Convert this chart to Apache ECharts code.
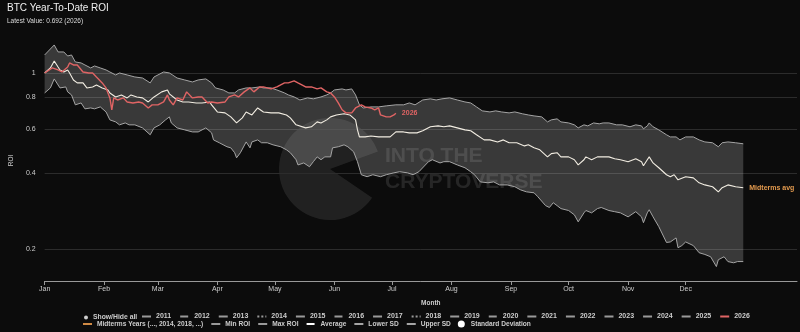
<!DOCTYPE html>
<html><head><meta charset="utf-8">
<style>html,body{margin:0;padding:0;background:#0c0c0c}#c{width:800px;height:332px}</style>
<script src="https://cdn.jsdelivr.net/npm/echarts@6/dist/echarts.min.js"></script>
</head><body><div id="c"></div>
<script>
// ---- data (day of year, ROI) ----
const months = ['Jan','Feb','Mar','Apr','May','Jun','Jul','Aug','Sep','Oct','Nov','Dec'];
const monthStartDays = [0,31,59,90,120,151,181,212,243,273,304,334];
const yTicks = [0.2,0.4,0.6,0.8,1];

const upperDays = [0,5,7,10,12,14,16,19,21,24,26,29,32,34,37,39,43,47,51,55,57,62,65,66,69,73,77,80,84,87,89,93,96,99,101,105,108,112,114,118,121,125,127,130,133,137,140,144,147,149,151,155,157,160,162,164,166,170,174,178,183,187,190,193,197,201,204,207,211,215,219,222,225,228,232,235,238,242,245,249,252,255,259,262,264,267,269,273,276,278,281,283,286,289,291,294,298,301,305,308,311,312,314,315,317,320,324,326,329,331,334,338,341,344,348,351,353,356,360,364];
const upperVals = [1.179,1.292,1.212,1.212,1.168,1.179,1.106,1.096,1.076,1.047,1.066,1.047,1.028,1.009,0.982,1.000,0.982,0.964,0.955,0.913,0.964,1.009,1.000,0.982,0.955,0.938,0.921,0.938,0.947,0.913,0.872,0.856,0.833,0.833,0.856,0.872,0.872,0.880,0.872,0.872,0.856,0.833,0.818,0.803,0.781,0.796,0.789,0.803,0.818,0.833,0.856,0.864,0.856,0.864,0.818,0.747,0.726,0.733,0.733,0.740,0.747,0.747,0.760,0.747,0.781,0.789,0.781,0.789,0.796,0.781,0.767,0.760,0.733,0.707,0.700,0.707,0.700,0.694,0.700,0.688,0.681,0.675,0.669,0.639,0.651,0.657,0.639,0.633,0.622,0.605,0.622,0.616,0.633,0.628,0.633,0.633,0.622,0.622,0.611,0.622,0.616,0.600,0.616,0.633,0.611,0.594,0.568,0.557,0.557,0.542,0.557,0.557,0.542,0.532,0.528,0.509,0.528,0.532,0.528,0.523];

const avgDays = [0,3,5,7,8,10,12,13,15,17,20,22,25,27,30,33,34,37,40,43,45,48,51,54,57,61,64,65,69,72,75,79,82,86,87,90,94,97,100,103,105,108,111,114,118,122,126,128,131,132,136,139,142,144,147,149,152,156,159,162,163,164,167,170,174,177,180,183,187,190,194,197,201,205,208,211,215,219,222,225,229,232,236,239,242,246,250,252,255,258,262,264,267,269,273,276,278,281,282,285,288,290,294,297,300,304,308,311,312,314,315,317,320,324,326,328,330,334,338,341,344,348,351,353,356,360,364];
const avgVals = [1.000,1.047,1.116,1.056,1.028,1.009,1.028,1.000,0.938,0.913,0.913,0.872,0.880,0.896,0.872,0.856,0.833,0.803,0.818,0.796,0.818,0.803,0.796,0.767,0.803,0.841,0.856,0.826,0.781,0.767,0.767,0.760,0.760,0.767,0.747,0.700,0.694,0.669,0.633,0.663,0.700,0.681,0.726,0.700,0.694,0.694,0.681,0.663,0.622,0.611,0.605,0.611,0.639,0.633,0.651,0.669,0.681,0.688,0.681,0.651,0.594,0.557,0.557,0.562,0.557,0.557,0.557,0.583,0.583,0.578,0.578,0.589,0.611,0.616,0.611,0.616,0.605,0.594,0.589,0.568,0.542,0.542,0.532,0.542,0.528,0.528,0.513,0.518,0.504,0.495,0.464,0.478,0.482,0.464,0.464,0.452,0.431,0.452,0.464,0.452,0.464,0.464,0.464,0.456,0.452,0.444,0.456,0.444,0.428,0.452,0.464,0.439,0.420,0.394,0.387,0.394,0.376,0.387,0.383,0.366,0.359,0.353,0.337,0.350,0.359,0.353,0.350];

const lowerDays = [0,3,5,7,8,11,12,14,16,19,21,24,26,29,32,34,37,39,42,44,47,51,55,57,60,63,65,66,69,73,77,80,84,87,88,91,95,97,99,100,102,105,107,108,111,113,116,119,123,126,128,131,132,135,138,140,142,144,146,149,150,153,156,158,161,163,165,168,171,175,178,182,185,189,192,195,200,202,206,208,211,215,219,222,224,227,231,234,237,241,245,248,251,255,257,261,263,265,267,269,273,276,278,281,282,285,288,290,294,297,300,304,308,311,312,314,315,317,320,324,326,329,330,332,334,338,341,344,347,350,351,354,356,359,361,364];
const lowerVals = [0.833,0.872,0.947,0.896,0.872,0.880,0.841,0.818,0.747,0.760,0.720,0.726,0.720,0.733,0.700,0.651,0.639,0.622,0.633,0.622,0.622,0.605,0.568,0.605,0.622,0.651,0.669,0.633,0.605,0.594,0.583,0.583,0.605,0.578,0.542,0.528,0.509,0.504,0.482,0.460,0.482,0.532,0.504,0.532,0.542,0.528,0.528,0.518,0.509,0.495,0.482,0.452,0.431,0.439,0.424,0.444,0.464,0.452,0.464,0.464,0.504,0.509,0.518,0.509,0.486,0.444,0.394,0.387,0.394,0.387,0.394,0.401,0.405,0.401,0.394,0.405,0.444,0.452,0.439,0.444,0.444,0.431,0.420,0.405,0.394,0.369,0.366,0.369,0.359,0.359,0.353,0.343,0.337,0.334,0.322,0.297,0.292,0.305,0.297,0.289,0.284,0.273,0.256,0.278,0.284,0.278,0.289,0.292,0.284,0.281,0.278,0.268,0.281,0.268,0.254,0.278,0.286,0.268,0.245,0.212,0.213,0.221,0.202,0.206,0.213,0.206,0.193,0.190,0.186,0.170,0.181,0.186,0.178,0.176,0.178,0.178];

const y2026Days = [0,4,7,9,12,13,15,17,20,23,25,27,30,32,33,34,35,36,38,41,43,46,49,51,54,56,59,62,64,65,67,69,72,74,77,80,82,85,87,90,94,96,99,101,104,107,109,112,114,118,121,125,127,130,132,133,136,139,142,144,147,149,151,153,155,157,158,160,162,165,167,170,172,174,175,178,180,181,182,183];
const y2026Vals = [1.000,1.047,1.028,1.009,1.056,1.096,1.076,1.076,1.009,1.000,1.000,0.964,0.913,0.872,0.833,0.796,0.714,0.796,0.781,0.796,0.767,0.760,0.767,0.760,0.726,0.747,0.747,0.767,0.818,0.781,0.747,0.796,0.781,0.841,0.796,0.803,0.803,0.760,0.767,0.760,0.767,0.803,0.818,0.803,0.841,0.872,0.841,0.880,0.880,0.864,0.880,0.913,0.913,0.930,0.913,0.913,0.880,0.880,0.864,0.872,0.841,0.833,0.803,0.760,0.714,0.694,0.700,0.694,0.726,0.747,0.733,0.726,0.714,0.726,0.681,0.669,0.669,0.657,0.681,0.692];

const yearNames = ['2011','2012','2013','2014','2015','2016','2017','2018','2019','2020','2021','2022','2023','2024','2025'];
const yearDash  = ['solid','dashed','solid','dotted','solid','dashed','solid','dotted','solid','dashed','solid','solid','solid','solid','solid'];

// ---- helpers ----
const L = v => Math.log10(v);
const pairs = (ds, vs) => ds.map((d, i) => [d, L(vs[i])]);
const FONT = 'Liberation Sans';
const upperPts = pairs(upperDays, upperVals);
const lowerPts = pairs(lowerDays, lowerVals);

const chart = echarts.init(document.getElementById('c'), null, {renderer: 'canvas'});

const legendOnly = yearNames.map((n, i) => ({
  name: n, type: 'line', data: [], symbol: 'none', itemStyle: {opacity: 0},
  lineStyle: {color: '#9a9a9a', width: 1.2, type: yearDash[i]}
}));
const legText = (fs) => ({color: '#cccccc', fontSize: fs, fontWeight: 'bold', fontFamily: FONT});

const option = {
  backgroundColor: '#0c0c0c',
  animation: false,
  textStyle: {fontFamily: FONT},
  title: {
    text: 'BTC Year-To-Date ROI', subtext: 'Latest Value: 0.692 (2026)',
    left: 7, top: 3, padding: 0, itemGap: 5,
    textStyle: {color: '#f0f0f0', fontSize: 10, fontWeight: 'normal', fontFamily: FONT},
    subtextStyle: {color: '#dddddd', fontSize: 6.5, fontFamily: FONT}
  },
  grid: {left: 39, right: 3, top: 40, bottom: 51, containLabel: false},
  xAxis: {
    type: 'value', min: 0, max: 392,
    name: 'Month', nameLocation: 'middle', nameGap: 19,
    nameTextStyle: {color: '#cccccc', fontSize: 6.5, fontWeight: 'bold', fontFamily: FONT, padding: [0, 0, 0, 20]},
    axisLine: {show: true, onZero: false, lineStyle: {color: '#999999', width: 1}},
    axisTick: {show: true, length: 4, lineStyle: {color: '#999999'}, customValues: monthStartDays},
    axisLabel: {color: '#cccccc', fontSize: 7, fontFamily: FONT, margin: 5, customValues: monthStartDays,
      formatter: v => months[monthStartDays.indexOf(Math.round(v))]},
    splitLine: {show: false}
  },
  yAxis: {
    type: 'value', min: L(0.149), max: 0.131,
    name: 'ROI', nameLocation: 'middle', nameGap: 27,
    nameTextStyle: {color: '#cccccc', fontSize: 6.5, fontFamily: FONT},
    axisLine: {show: false},
    axisTick: {show: false, customValues: yTicks.map(L)},
    axisLabel: {color: '#cccccc', fontSize: 7, fontFamily: FONT, margin: 9, customValues: yTicks.map(L),
      formatter: v => String(+Math.pow(10, v).toFixed(2))},
    splitLine: {show: true, lineStyle: {color: '#2c2c2c', width: 1}}
  },
  legend: [
    {data: ['Show/Hide all'], left: 84, top: 314, padding: 0, itemWidth: 4, itemHeight: 4, itemTextGap: 3,
     textStyle: legText(6.8)},
    {data: yearNames.concat(['2026']), left: 141, top: 313, padding: 0, itemWidth: 9, itemHeight: 7,
     itemGap: 8, itemTextGap: 3, itemStyle: {opacity: 0}, textStyle: legText(7)},
    {data: ['Midterms Years (..., 2014, 2018, ...)', 'Min ROI', 'Max ROI', 'Average', 'Lower SD', 'Upper SD',
            {name: 'Standard Deviation', icon: 'circle', itemStyle: {color: '#ffffff', opacity: 1}}],
     left: 82, top: 320.5, padding: 0, itemWidth: 9, itemHeight: 7, itemGap: 7, itemTextGap: 3,
     itemStyle: {opacity: 0}, textStyle: legText(6.6)}
  ],
  graphic: [
    {type: 'sector', silent: true, z: 0,
     shape: {cx: 330, cy: 169, r0: 0, r: 51, startAngle: 0.6, endAngle: Math.PI * 2 - 0.35, clockwise: true},
     style: {fill: 'rgba(255,255,255,0.09)'}},
    {type: 'text', silent: true, z: 0, left: 385, top: 146,
     style: {text: 'INTO THE', fill: 'rgba(255,255,255,0.11)', font: 'bold 21px "Liberation Sans"'}},
    {type: 'text', silent: true, z: 0, left: 385, top: 172,
     style: {text: 'CRYPTOVERSE', fill: 'rgba(255,255,255,0.11)', font: 'bold 21px "Liberation Sans"'}}
  ],
  series: [
    {name: 'Standard Deviation', type: 'custom', data: [[0, 0]], z: 1, silent: true,
     renderItem: (params, api) => {
       const pts = upperPts.map(p => api.coord(p)).concat(lowerPts.slice().reverse().map(p => api.coord(p)));
       return {type: 'polygon', shape: {points: pts}, style: {fill: 'rgba(255,255,255,0.19)'}};
     }},
    {name: 'Upper SD', type: 'line', data: upperPts, symbol: 'none', z: 3, itemStyle: {opacity: 0},
     lineStyle: {color: '#a5a5a5', width: 1}},
    {name: 'Lower SD', type: 'line', data: lowerPts, symbol: 'none', z: 3, itemStyle: {opacity: 0},
     lineStyle: {color: '#a5a5a5', width: 1}},
    {name: 'Midterms avg', type: 'line', data: pairs(avgDays, avgVals), symbol: 'none', z: 4, itemStyle: {opacity: 0},
     lineStyle: {color: '#f2ede2', width: 1.1},
     endLabel: {show: true, formatter: 'Midterms avg', color: '#e39a4e', fontSize: 7, fontWeight: 'bold', fontFamily: FONT, distance: 6}},
    {name: '2026', type: 'line', data: pairs(y2026Days, y2026Vals), symbol: 'none', z: 5, itemStyle: {opacity: 0},
     lineStyle: {color: '#e06464', width: 1.4},
     endLabel: {show: true, formatter: '2026', color: '#e06464', fontSize: 7, fontWeight: 'bold', fontFamily: FONT, distance: 6}},
    {name: 'Show/Hide all', type: 'scatter', data: [], itemStyle: {color: '#ffffff'}},
    {name: 'Midterms Years (..., 2014, 2018, ...)', type: 'line', data: [], symbol: 'none', itemStyle: {opacity: 0},
     lineStyle: {color: '#d08a45', width: 1.2}},
    {name: 'Min ROI', type: 'line', data: [], symbol: 'none', itemStyle: {opacity: 0}, lineStyle: {color: '#9a9a9a', width: 1.2}},
    {name: 'Max ROI', type: 'line', data: [], symbol: 'none', itemStyle: {opacity: 0}, lineStyle: {color: '#9a9a9a', width: 1.2}},
    {name: 'Average', type: 'line', data: [], symbol: 'none', itemStyle: {opacity: 0}, lineStyle: {color: '#ffffff', width: 1.2, type: 'dashed'}}
  ].concat(legendOnly)
};
chart.setOption(option);
</script></body></html>
